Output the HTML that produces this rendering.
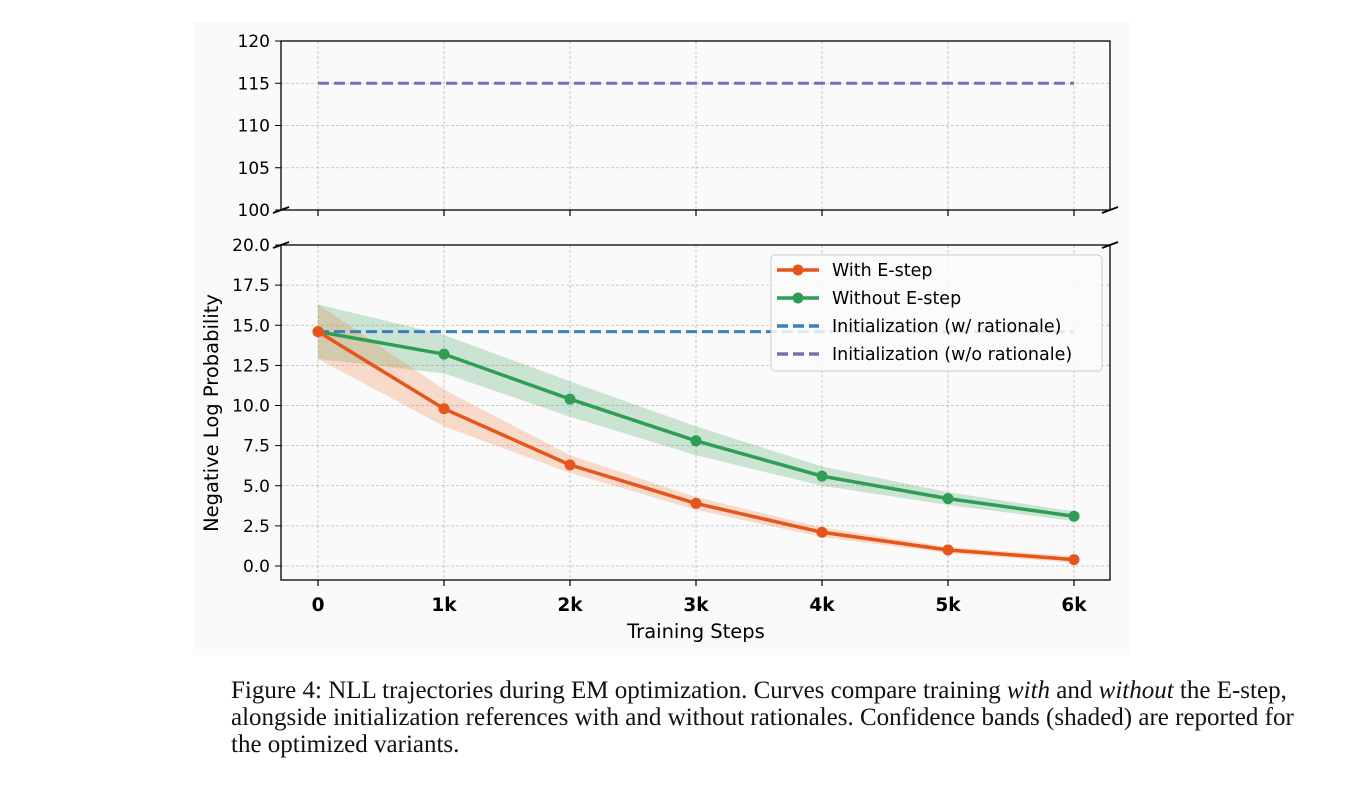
<!DOCTYPE html>
<html><head><meta charset="utf-8"><style>
body{margin:0;background:#fff;width:1354px;height:794px;overflow:hidden;position:relative;font-family:"DejaVu Sans","Liberation Sans",sans-serif}
#cap{position:absolute;left:231px;top:678px;width:1068px;font-family:"Liberation Serif",serif;font-size:25px;line-height:26.8px;color:#111}
</style></head><body>
<svg id="chart" width="1354" height="670" style="position:absolute;left:0;top:0">
<rect x="193" y="22" width="937" height="633" fill="#fafafa"/>
<g id="g"></g>
</svg>
<div id="cap">Figure 4: NLL trajectories during EM optimization. Curves compare training <i>with</i> and <i>without</i> the E-step, alongside initialization references with and without rationales. Confidence bands (shaded) are reported for the optimized variants.</div>
<script>
const steps=[0,1,2,3,4,5,6];
const xLabels=["0","1k","2k","3k","4k","5k","6k"];
const withE=[14.6,9.8,6.3,3.9,2.1,1.0,0.4];
const withELo=[12.9,8.7,5.8,3.5,1.8,0.8,0.2];
const withEHi=[16.3,11.0,6.9,4.3,2.4,1.2,0.6];
const withoutE=[14.6,13.2,10.4,7.8,5.6,4.2,3.1];
const withoutELo=[12.9,12.0,9.3,6.9,5.0,3.8,2.8];
const withoutEHi=[16.3,14.4,11.5,8.7,6.2,4.6,3.4];
const initWith=14.6;
const initWithout=115;
const topTicks=[100,105,110,115,120];
const botTicks=[0,2.5,5,7.5,10,12.5,15,17.5,20];
const NS="http://www.w3.org/2000/svg";
const g=document.getElementById('g');
const X=v=>318+v*126;
const YT=v=>210-(v-100)*(169/20);
const YB=v=>566-v*(321/20);
function el(t,a,p){const e=document.createElementNS(NS,t);for(const k in a)e.setAttribute(k,a[k]);(p||g).appendChild(e);return e;}
steps.forEach((s,i)=>{
 let l=el('line',{x1:X(s),x2:X(s),y1:41,y2:210,stroke:'#bbb','stroke-dasharray':'3,2','stroke-width':0.8});
 
 l=el('line',{x1:X(s),x2:X(s),y1:245,y2:580,stroke:'#bbb','stroke-dasharray':'3,2','stroke-width':0.8});
 
 l=el('line',{x1:X(s),x2:X(s),y1:580,y2:586,stroke:'#000','stroke-width':1.2});
 
 const t=el('text',{x:X(s),y:611,'text-anchor':'middle','font-size':18.5,'font-weight':'bold',fill:'#000'});t.textContent=xLabels[i];
 
});
topTicks.forEach(v=>{
 let l=el('line',{x1:281,x2:1110,y1:YT(v),y2:YT(v),stroke:'#bbb','stroke-dasharray':'3,2','stroke-width':0.8});
 
 l=el('line',{x1:275,x2:281,y1:YT(v),y2:YT(v),stroke:'#000'});
 
 const t=el('text',{x:270,y:YT(v)+6,'text-anchor':'end','font-size':17,fill:'#000'});t.textContent=v;
 
});
botTicks.forEach(v=>{
 let l=el('line',{x1:281,x2:1110,y1:YB(v),y2:YB(v),stroke:'#bbb','stroke-dasharray':'3,2','stroke-width':0.8});
 
 l=el('line',{x1:275,x2:281,y1:YB(v),y2:YB(v),stroke:'#000'});
 
 const t=el('text',{x:270,y:YB(v)+6,'text-anchor':'end','font-size':17,fill:'#000'});t.textContent=v.toFixed(1);
 
});
function band(lo,hi,c,name){const pts=steps.map((s,i)=>X(s)+','+YB(hi[i])).concat(steps.map((s,i)=>X(s)+','+YB(lo[i])).reverse());
 const p=el('polygon',{points:pts.join(' '),fill:c,'fill-opacity':0.25});}
band(withoutELo,withoutEHi,'#3a9f5a','band-without-e-step');
band(withELo,withEHi,'#f07a3a','band-with-e-step');
let l=el('line',{x1:X(0),x2:X(6),y1:YB(initWith),y2:YB(initWith),stroke:'#3a80bf','stroke-width':3,'stroke-dasharray':'11,5'});

l=el('line',{x1:X(0),x2:X(6),y1:YT(initWithout),y2:YT(initWithout),stroke:'#7a6fb3','stroke-width':3,'stroke-dasharray':'11,5'});

function series(d,c,name){const p=el('polyline',{points:steps.map((s,i)=>X(s)+','+YB(d[i])).join(' '),fill:'none',stroke:c,'stroke-width':3.5});
 
 d.forEach((v,i)=>{const m=el('circle',{cx:X(steps[i]),cy:YB(v),r:5.5,fill:c});});}
series(withoutE,'#2e9e55','without-e-step');
series(withE,'#e5561a','with-e-step');
el('rect',{x:281,y:41,width:829,height:169,fill:'none',stroke:'#000','stroke-width':1.3});
el('rect',{x:281,y:245,width:829,height:335,fill:'none',stroke:'#000','stroke-width':1.3});
el('rect',{x:278,y:211,width:836,height:33,fill:'#fafafa'});
[[281,210],[1110,210],[281,245],[1110,245]].forEach(p=>{el('line',{x1:p[0]-8,y1:p[1]+3,x2:p[0]+8,y2:p[1]-3,stroke:'#000','stroke-width':1.8});});
steps.forEach(s=>{const tk=el('line',{x1:X(s),x2:X(s),y1:210,y2:216,stroke:'#000','stroke-width':1.2});
 });
let t=el('text',{x:696,y:638,'text-anchor':'middle','font-size':19.5,fill:'#000'});t.textContent='Training Steps';

t=el('text',{x:0,y:0,'text-anchor':'middle','font-size':19.5,fill:'#000',transform:'translate(218,413) rotate(-90)'});t.textContent='Negative Log Probability';

const lg=el('g',{});
el('rect',{x:771,y:255,width:331,height:116,rx:4,fill:'#fafafa','fill-opacity':0.85,stroke:'#ccc'},lg);
const ents=[['With E-step','#e5561a',1],['Without E-step','#2e9e55',1],['Initialization (w/ rationale)','#3a80bf',0],['Initialization (w/o rationale)','#7a6fb3',0]];
ents.forEach((e,i)=>{const y=270+i*28;
 const ge=el('g',{},lg);
 el('line',{x1:777,x2:819,y1:y,y2:y,stroke:e[1],'stroke-width':3.5,'stroke-dasharray':e[2]?'none':'11,5'},ge);
 if(e[2])el('circle',{cx:798,cy:y,r:5.5,fill:e[1]},ge);
 const tt=el('text',{x:832,y:y+6,'font-size':17.5,fill:'#000'},ge);tt.textContent=e[0];});
</script>
</body></html>
